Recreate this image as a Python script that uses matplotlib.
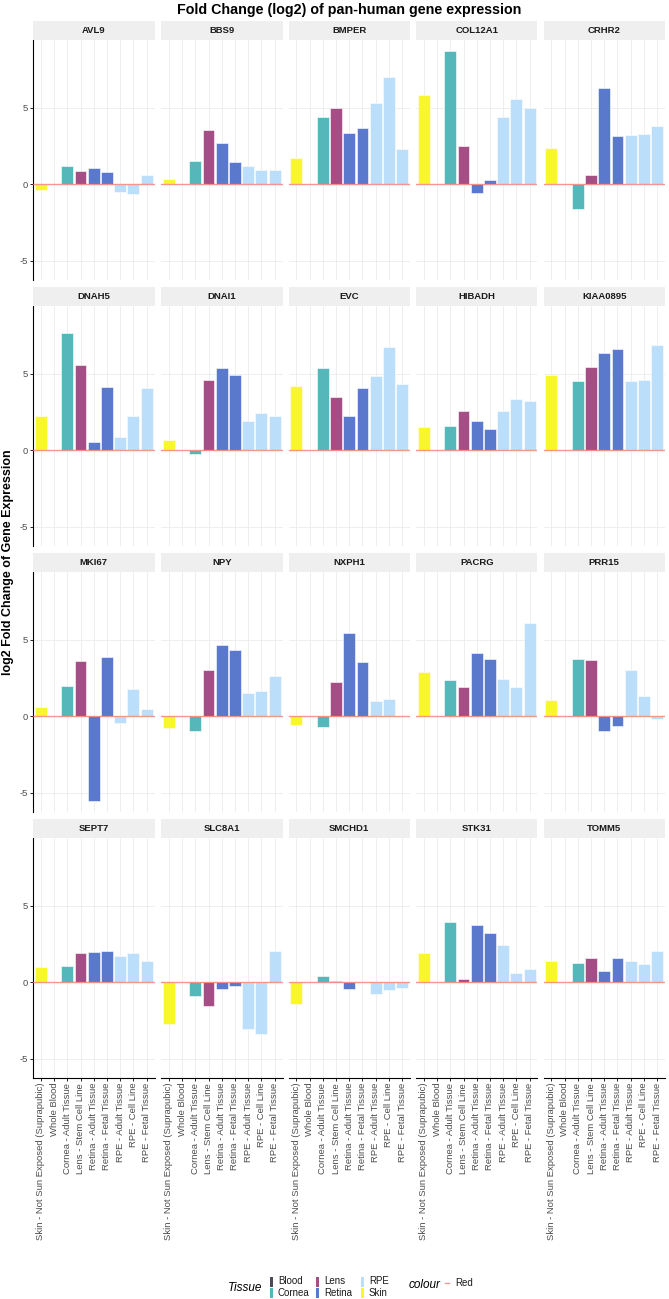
import matplotlib
matplotlib.use("Agg")
import matplotlib.pyplot as plt
from matplotlib.patches import Rectangle
from matplotlib.lines import Line2D
import numpy as np

plt.rcParams['font.family'] = ['Liberation Sans', 'DejaVu Sans']

genes = ["AVL9", "BBS9", "BMPER", "COL12A1", "CRHR2",
         "DNAH5", "DNAI1", "EVC", "HIBADH", "KIAA0895",
         "MKI67", "NPY", "NXPH1", "PACRG", "PRR15",
         "SEPT7", "SLC8A1", "SMCHD1", "STK31", "TOMM5"]

categories = ["Skin - Not Sun Exposed (Suprapubic)", "Whole Blood",
              "Cornea - Adult Tissue", "Lens - Stem Cell Line",
              "Retina - Adult Tissue", "Retina - Fetal Tissue",
              "RPE - Adult Tissue", "RPE - Cell Line", "RPE - Fetal Tissue"]
tissue_of_category = ["Skin", "Blood", "Cornea", "Lens", "Retina", "Retina",
                      "RPE", "RPE", "RPE"]

skin = [-0.41, 0.37, 1.71, 5.79, 2.35, 2.25, 0.67, 4.19, 1.53, 4.9,
        0.61, -0.74, -0.56, 2.9, 1.06, 0.98, -2.71, -1.43, 1.89, 1.41]
whole_blood = [0.0] * 20
cornea_adult = [1.17, 1.51, 4.41, 8.7, -1.6, 7.62, -0.28, 5.38, 1.6, 4.51,
                1.97, -0.97, -0.69, 2.38, 3.72, 1.04, -0.93, 0.41, 3.95, 1.24]
lens_stem = [0.89, 3.57, 5.0, 2.5, 0.57, 5.53, 4.56, 3.48, 2.55, 5.42,
             3.59, 2.99, 2.25, 1.9, 3.66, 1.89, -1.58, 0.09, 0.2, 1.6]
retina_adult = [1.06, 2.72, 3.31, -0.58, 6.27, 0.52, 5.38, 2.25, 1.88, 6.33,
                -5.54, 4.63, 5.45, 4.11, -0.97, 2.0, -0.46, -0.43, 3.73, 0.76]
retina_fetal = [0.8, 1.45, 3.64, 0.28, 3.16, 4.12, 4.9, 4.08, 1.36, 6.63,
                3.85, 4.29, 3.55, 3.72, -0.63, 2.02, -0.28, 0.0, 3.21, 1.6]
rpe_adult = [-0.5, 1.16, 5.28, 4.36, 3.2, 0.84, 1.88, 4.86, 2.53, 4.51,
             -0.43, 1.49, 0.97, 2.45, 2.99, 1.71, -3.08, -0.76, 2.41, 1.37]
rpe_cell = [-0.67, 0.94, 7.0, 5.55, 3.27, 2.25, 2.44, 6.76, 3.37, 4.56,
            1.77, 1.62, 1.13, 1.9, 1.3, 1.89, -3.36, -0.52, 0.63, 1.19]
rpe_fetal = [0.63, 0.94, 2.28, 4.98, 3.79, 4.08, 2.25, 4.34, 3.22, 6.85,
             0.5, 2.62, 0.04, 6.06, -0.17, 1.37, 2.02, -0.39, 0.85, 2.06]

series = [skin, whole_blood, cornea_adult, lens_stem, retina_adult,
          retina_fetal, rpe_adult, rpe_cell, rpe_fetal]

tissue_names = ["Blood", "Cornea", "Lens", "Retina", "RPE", "Skin"]
tissue_colors = {"Blood": "#4B4B57", "Cornea": "#55B7B9", "Lens": "#A54E86",
                 "Retina": "#5A78CC", "RPE": "#BBDFFA", "Skin": "#F7F72B"}
red_line = "#F8766D"

W, H = 669, 1299
fig = plt.figure(figsize=(W / 100, H / 100), dpi=100)

col_x = [33, 161, 288.5, 416, 543.5]
pw = 121.5
strip_tops = [21, 287, 553, 819]
sh = 19
ph = 240

allv = np.array(series)
vmin, vmax = min(allv.min(), 0), max(allv.max(), 0)
pad = 0.05 * (vmax - vmin)
ylim = (vmin - pad, vmax + pad)
xpos = np.arange(len(categories))

def fx(x):
    return x / W

def fy(y):
    return 1 - y / H

for gi, gene in enumerate(genes):
    r, c = divmod(gi, 5)
    x0 = col_x[c]
    ptop = strip_tops[r] + sh
    ax = fig.add_axes([fx(x0), fy(ptop + ph), pw / W, ph / H])
    ax.set_xlim(-0.6, len(categories) - 0.4)
    ax.set_ylim(*ylim)
    for xv in xpos:
        ax.axvline(xv, color="#EBEBEB", lw=0.6, zorder=0)
    for yv in (-5, 0, 5):
        ax.axhline(yv, color="#EBEBEB", lw=0.6, zorder=0)
    vals = [s[gi] for s in series]
    cols = [tissue_colors[t] for t in tissue_of_category]
    ax.bar(xpos, vals, width=0.9, color=cols, edgecolor="white",
           linewidth=0.4, zorder=2)
    ax.axhline(0, color=red_line, lw=1.0, alpha=0.75, zorder=3)
    for s in ax.spines.values():
        s.set_visible(False)
    ax.set_yticks([-5, 0, 5])
    ax.set_xticks(xpos)
    if c == 0:
        ax.spines['left'].set_visible(True)
        ax.spines['left'].set_linewidth(0.8)
        ax.tick_params(axis='y', length=2, width=0.6, labelsize=6.8,
                       labelcolor="#4D4D4D", pad=1.5)
        ax.set_yticklabels(["-5", "0", "5"])
    else:
        ax.tick_params(axis='y', length=0, labelleft=False)
    if r == 3:
        ax.spines['bottom'].set_visible(True)
        ax.spines['bottom'].set_linewidth(0.8)
        ax.set_xticklabels(categories, rotation=90, fontsize=6.8,
                           color="#4D4D4D")
        ax.tick_params(axis='x', length=2, width=0.6, pad=1.5)
    else:
        ax.tick_params(axis='x', length=0, labelbottom=False)
    # strip
    fig.patches.append(Rectangle((fx(x0), fy(strip_tops[r] + sh)), pw / W,
                                 sh / H, transform=fig.transFigure,
                                 facecolor="#EFEFEF", edgecolor="none"))
    fig.text(fx(x0 + pw / 2), fy(strip_tops[r] + sh / 2), gene,
             ha="center", va="center", fontsize=6.8, fontweight="bold",
             color="#1A1A1A")

fig.text(fx(349), fy(10), "Fold Change (log2) of pan-human gene expression",
         ha="center", va="center", fontsize=10.3, fontweight="bold")
fig.text(fx(8), fy(562), "log2 Fold Change of Gene Expression", rotation=90,
         ha="center", va="center", fontsize=9, fontweight="bold")

# legend
ly1, ly2 = 1281.5, 1292.5
fig.text(fx(262), fy(1288), "Tissue", ha="right", va="center", fontsize=8.5,
         style="italic")
legend_cols = [(271, ["Blood", "Cornea"]), (317, ["Lens", "Retina"]),
               (362, ["RPE", "Skin"])]
for kx, names in legend_cols:
    for name, ly in zip(names, (ly1, ly2)):
        fig.patches.append(Rectangle((fx(kx - 1.5), fy(ly + 5)), 3 / W, 10 / H,
                                     transform=fig.transFigure,
                                     facecolor=tissue_colors[name],
                                     edgecolor="none"))
        fig.text(fx(kx + 7), fy(ly), name, ha="left", va="center",
                 fontsize=7, color="#1A1A1A")
fig.text(fx(440), fy(1285), "colour", ha="right", va="center", fontsize=8.5,
         style="italic")
fig.lines.append(Line2D([fx(445), fx(449)], [fy(1283), fy(1283)],
                        transform=fig.transFigure, color=red_line, lw=1.0,
                        alpha=0.75))
fig.text(fx(455), fy(1283), "Red", ha="left", va="center", fontsize=7,
         color="#1A1A1A")

fig.savefig("out.png", dpi=100, facecolor="white")
